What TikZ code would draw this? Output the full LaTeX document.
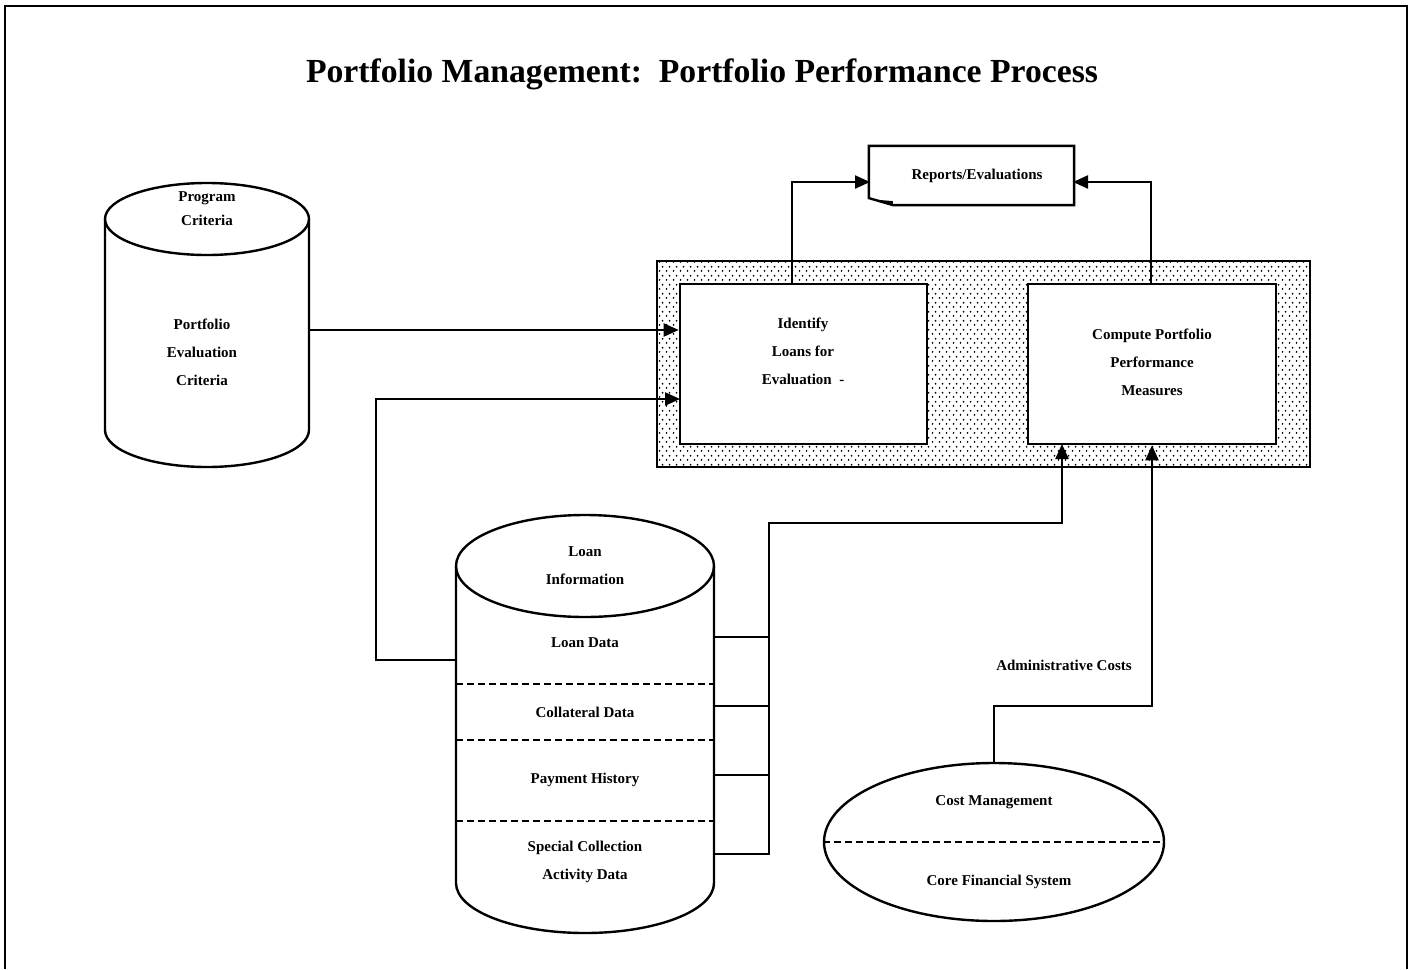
\documentclass[tikz,border=0pt]{standalone}
\usepackage{fontspec}
\setmainfont{Liberation Serif}
\usetikzlibrary{arrows.meta,patterns.meta,shapes.geometric}
\tikzdeclarepattern{name=sdots, type=uncolored,
  bounding box={(0pt,0pt) and (7pt,8.6pt)}, tile size={(7pt,8.6pt)},
  code={\fill (1.75pt,2.15pt) circle (1.05pt); \fill (5.25pt,6.45pt) circle (1.05pt);}}
\begin{document}
\begin{tikzpicture}[x=1pt,y=-1pt,
  line width=2.2pt,
  lbl/.style={font=\bfseries\fontsize{15}{28}\selectfont, align=center, inner sep=0pt},
  arr/.style={-{Triangle[length=15pt,width=13pt]}, line width=2.2pt},
  conn/.style={line width=2.2pt},
  shape2/.style={line width=2.4pt},
  procbox/.style={draw, fill=white, line width=2.6pt, minimum width=247pt, minimum height=160pt, inner sep=0pt},
  dsh/.style={dashed, dash pattern=on 7pt off 4pt, line width=1.9pt}]
\useasboundingbox (0,0) rectangle (1412,969);
% frame
\draw[line width=2.4pt] (5,969) -- (5,6) -- (1407,6) -- (1407,969);
% title
\node[font=\bfseries\fontsize{33.7}{40}\selectfont, inner sep=0pt] (title) at (702,74) {Portfolio Management:\ \ Portfolio Performance Process};

% Program criteria cylinder
\draw[shape2] (105,219) -- (105,430) arc[start angle=180, end angle=0, x radius=102, y radius=37] -- (309,219);
\draw[shape2] (207,219) ellipse [x radius=102, y radius=36];
\node[lbl, font=\bfseries\fontsize{15}{24}\selectfont] (pctop) at (207,209) {Program\\Criteria};
\node[lbl] (pcbody) at (202,352) {Portfolio\\Evaluation\\Criteria};
\coordinate (pcR) at (309,330);

% process group
\node[draw, pattern=sdots, line width=2.6pt, minimum width=653pt, minimum height=206pt, inner sep=0pt] (grp) at (983.5,364) {};
\node[procbox] (ident) at (803.5,364) {};
\node[procbox, minimum width=248pt] (comp) at (1152,364) {};
\node[lbl] (identt) at (803,351) {Identify\\Loans for\\Evaluation\ \ -};
\node[lbl] (compt) at (1152,362) {Compute Portfolio\\Performance\\Measures};

% reports document
\node[minimum width=203pt, minimum height=57pt, inner sep=0pt] (rep) at (971.5,175.5) {};
\draw[shape2, fill=white] (rep.north west) -- (rep.north east) -- (rep.south east) -- ([xshift=24pt]rep.south west) -- ([yshift=7pt]rep.south west) -- cycle;
\fill ([xshift=6pt,yshift=5.5pt]rep.south west) -- ([xshift=24pt]rep.south west) -- ([xshift=24pt,yshift=4pt]rep.south west) -- cycle;
\node[lbl] (rept) at (977,176) {Reports/Evaluations};
\coordinate (repL) at (870,182);
\coordinate (repR) at (1073,182);

% arrows to reports
\draw[arr] ([xshift=-11.5pt]ident.north) |- (repL);
\draw[arr] ([xshift=-1pt]comp.north) |- (repR);

% program criteria -> identify
\draw[arr] (pcR) -- (pcR -| ident.west);

% loan information cylinder
\draw[shape2] (456,566) -- (456,883) arc[start angle=180, end angle=0, x radius=129, y radius=50] -- (714,566);
\draw[shape2] (585,566) ellipse [x radius=129, y radius=51];
\node[lbl] (lit) at (585,566) {Loan\\Information};
\draw[dsh] (456,684) -- (714,684);
\draw[dsh] (456,740) -- (714,740);
\draw[dsh] (456,821) -- (714,821);
\node[lbl] (ld) at (585,643) {Loan Data};
\node[lbl] (cd) at (585,712) {Collateral Data};
\node[lbl] (ph) at (585,780) {Payment History};
\node[lbl] (sc) at (585,862) {Special Collection\\Activity Data};
\coordinate (liL) at (456,660);
\coordinate (liTurn) at (376,660);
\coordinate (identIn2) at (680,399);
\draw[arr] (liL) -- (liTurn) |- (identIn2);

\coordinate (liR1) at (714,637);
\coordinate (liR2) at (714,706);
\coordinate (liR3) at (714,775);
\coordinate (liR4) at (714,854);
\coordinate (bus) at (769,523);
\coordinate (compIn1) at (1062,444);
\draw[conn] (liR1) -- (liR1 -| bus);
\draw[conn] (liR2) -- (liR2 -| bus);
\draw[conn] (liR3) -- (liR3 -| bus);
\draw[arr] (liR4) -| (bus) -| (compIn1);

% cost management
\node[draw, ellipse, shape2, minimum width=340pt, minimum height=158pt, inner sep=0pt] (cost) at (994,842) {};
\draw[dsh] (cost.west) -- (cost.east);
\node[lbl] (cm) at (994,802) {Cost Management};
\node[lbl] (cf) at (999,882) {Core Financial System};
\coordinate (admTurn) at (994,706);
\draw[arr] (cost.north) -- (admTurn) -| (comp.south);
\node[lbl] (adm) at (1064,665) {Administrative Costs};
\end{tikzpicture}
\end{document}
